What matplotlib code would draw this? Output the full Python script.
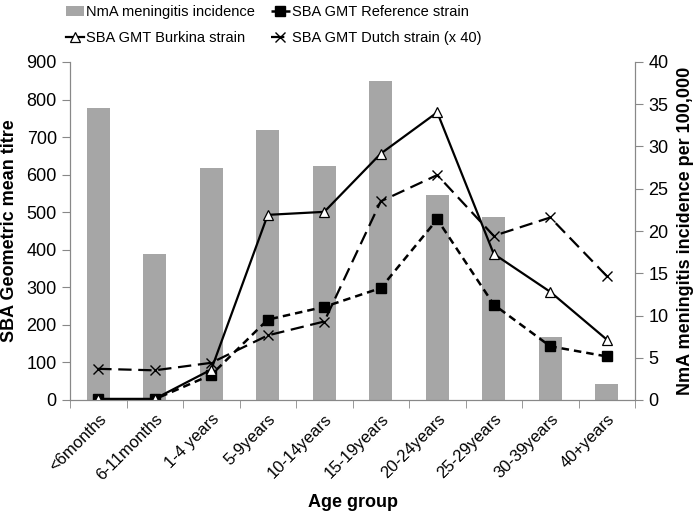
import matplotlib
matplotlib.use("Agg")
import matplotlib.pyplot as plt
from matplotlib.ticker import FixedLocator

plt.rcParams['font.family'] = ['Liberation Sans', 'DejaVu Sans']

age_groups = ['<6months', '6-11months', '1-4 years', '5-9years', '10-14years',
              '15-19years', '20-24years', '25-29years', '30-39years', '40+years']
incidence = [34.6, 17.3, 27.5, 32.0, 27.7, 37.8, 24.3, 21.6, 7.5, 1.9]
gmt_reference = [2, 2, 67, 214, 248, 298, 481, 254, 143, 116]
gmt_burkina = [3, 3, 81, 493, 501, 656, 766, 389, 288, 161]
gmt_dutch = [83, 79, 99, 172, 209, 529, 599, 437, 486, 330]

fig = plt.figure(figsize=(6.96, 5.19), dpi=100)
ax = fig.add_axes([70/696, 1-400/519, (635-70)/696, (400-62)/519])
ax2 = ax.twinx()
ax.set_zorder(ax2.get_zorder() + 1)
ax.patch.set_visible(False)

x = list(range(len(age_groups)))
bars = ax2.bar(x, incidence, width=0.4, color='#A6A6A6', label='NmA meningitis incidence')

l_ref, = ax.plot(x, gmt_reference, color='black', linestyle=(0, (3, 2)), linewidth=1.8,
                 marker='s', markersize=6.5, markerfacecolor='black', markeredgecolor='black',
                 label='SBA GMT Reference strain')
l_bur, = ax.plot(x, gmt_burkina, color='black', linestyle='-', linewidth=1.6,
                 marker='^', markersize=7, markerfacecolor='white', markeredgecolor='black',
                 markeredgewidth=0.9, label='SBA GMT Burkina strain')
l_dut, = ax.plot(x, gmt_dutch, color='black', linestyle=(0, (6, 3)), linewidth=1.6,
                 marker='x', markersize=7, markeredgewidth=1.0,
                 label='SBA GMT Dutch strain (x 40)')

ax.set_xlim(-0.5, len(age_groups) - 0.5)
ax.set_ylim(0, 900)
ax2.set_ylim(0, 40)
ax.set_yticks(range(0, 901, 100))
ax2.set_yticks(range(0, 41, 5))

ax.set_xticks(x)
ax.set_xticklabels(age_groups, rotation=45, ha='right', rotation_mode='anchor', fontsize=12)
ax.tick_params(axis='x', which='major', length=0, pad=8)
ax.xaxis.set_minor_locator(FixedLocator([i + 0.5 for i in range(-1, len(age_groups))]))
ax.tick_params(axis='x', which='minor', length=6, color='#888888')
ax.tick_params(axis='y', labelsize=13, length=6, color='#888888', direction='out')
ax2.tick_params(axis='y', labelsize=13, length=6, color='#888888', direction='out')

for a in (ax, ax2):
    a.spines['top'].set_visible(False)
    for s in ('left', 'right', 'bottom'):
        a.spines[s].set_color('#888888')

ax.set_ylabel('SBA Geometric mean titre', fontsize=13, fontweight='bold', labelpad=6)
ax2.set_ylabel('NmA meningitis incidence per 100,000', fontsize=13, fontweight='bold', labelpad=6)
ax.set_xlabel('Age group', fontsize=13, fontweight='bold', labelpad=8)

handles = [bars, l_bur, l_ref, l_dut]
labels = [h.get_label() for h in handles]
fig.legend(handles, labels, ncol=2, loc='upper left', bbox_to_anchor=(66/696, 1 - 5/519),
           frameon=False, prop={'family': ['Liberation Sans'], 'size': 10.5},
           handlelength=1.25, handletextpad=0.15, columnspacing=1.1, labelspacing=0.85,
           borderpad=0, borderaxespad=0)

fig.savefig('out.png', dpi=100)
